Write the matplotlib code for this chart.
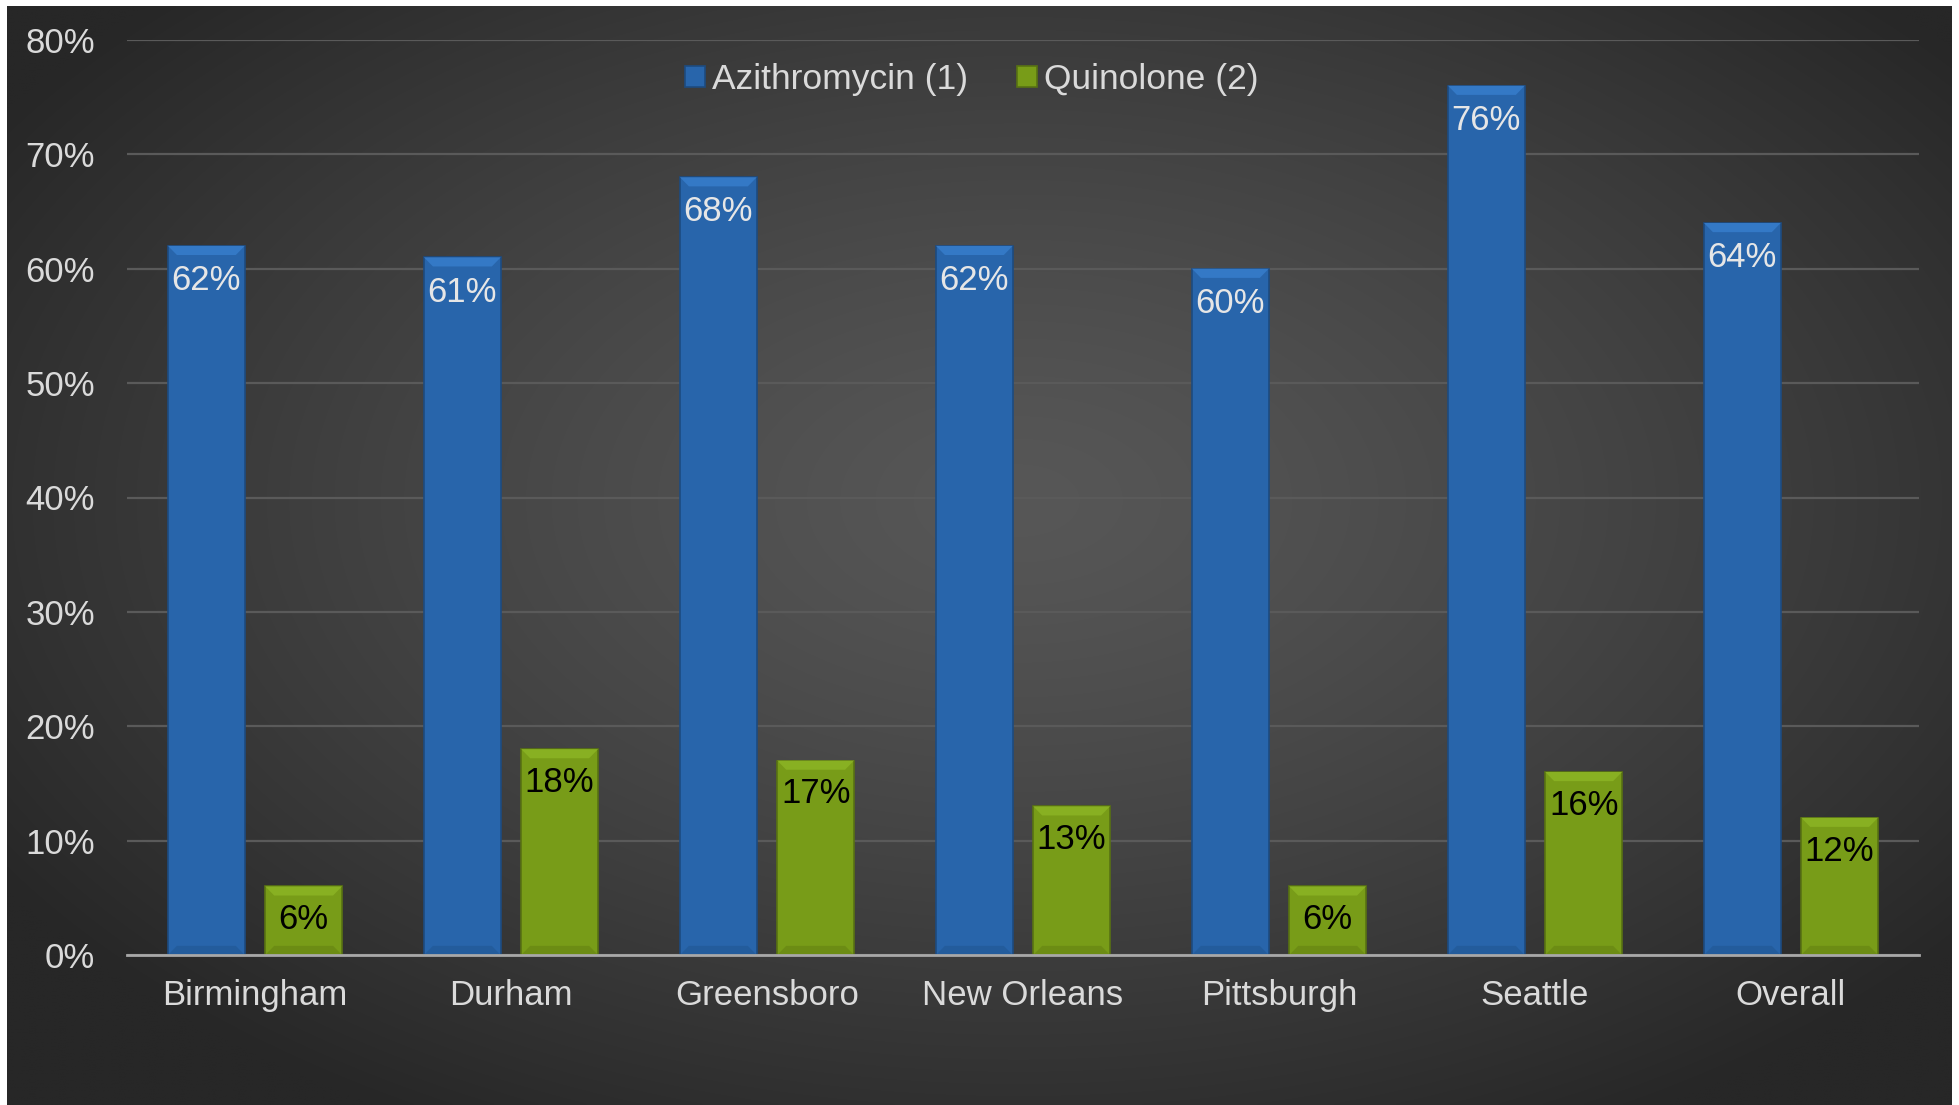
import numpy as np
import matplotlib
matplotlib.use("Agg")
import matplotlib.pyplot as plt
from matplotlib.patches import Polygon

plt.rcParams['font.family'] = ['Liberation Sans', 'DejaVu Sans']

cities = ['Birmingham', 'Durham', 'Greensboro', 'New Orleans', 'Pittsburgh', 'Seattle', 'Overall']
azithro = [62, 61, 68, 62, 60, 76, 64]
quinolone = [6, 18, 17, 13, 6, 16, 12]
yticks = [0, 10, 20, 30, 40, 50, 60, 70, 80]

fig = plt.figure(figsize=(19.59, 11.05), dpi=100, facecolor='white')

# dark radial gradient background
bg = fig.add_axes([7 / 1959, 0, (1952 - 7) / 1959, (1105 - 6) / 1105])
bg.set_axis_off()
yy, xx = np.mgrid[0:1:400j, 0:1:700j]
d = np.sqrt(((xx - 0.52) / 0.62) ** 2 + ((yy - 0.45) / 0.65) ** 2)
shade = 0x57 - (0x57 - 0x27) * np.clip(d, 0, 1) ** 1.3
img = np.dstack([shade, shade, shade]) / 255.0
bg.imshow(img, aspect='auto', extent=[0, 1, 0, 1], interpolation='bilinear')

ax = fig.add_axes([127 / 1959, 150 / 1105, 1792 / 1959, 915 / 1105])
ax.set_facecolor('none')

x = np.arange(len(cities))
w = 0.30
off = 0.19
blue_c, blue_edge, blue_hi, blue_lo = '#2865ab', '#1d4b80', '#3479c6', '#235c9c'
green_c, green_edge, green_hi, green_lo = '#789c18', '#587212', '#88b022', '#6c8c14'

b1 = ax.bar(x - off, azithro, w, color=blue_c, edgecolor=blue_edge, linewidth=1.2,
            label='Azithromycin (1)', zorder=3)
b2 = ax.bar(x + off, quinolone, w, color=green_c, edgecolor=green_edge, linewidth=1.2,
            label='Quinolone (2)', zorder=3)

# soft bevel on top and bottom of each bar
bev_y = 0.8
bev_x = 0.035
for bars, hi, lo in [(b1, blue_hi, blue_lo), (b2, green_hi, green_lo)]:
    for r in bars:
        x0, x1, top = r.get_x(), r.get_x() + r.get_width(), r.get_height()
        ax.add_patch(Polygon([(x0, top), (x1, top), (x1 - bev_x, top - bev_y), (x0 + bev_x, top - bev_y)],
                             closed=True, facecolor=hi, edgecolor='none', zorder=4))
        ax.add_patch(Polygon([(x0, 0), (x1, 0), (x1 - bev_x, bev_y), (x0 + bev_x, bev_y)],
                             closed=True, facecolor=lo, edgecolor='none', zorder=4))

for r, v in zip(b1, azithro):
    ax.annotate(f'{v}%', (r.get_x() + r.get_width() / 2, v), xytext=(0, -25), textcoords='offset points',
                ha='center', va='center', fontsize=25, color='#e6e6e6', zorder=5)
for r, v in zip(b2, quinolone):
    ax.annotate(f'{v}%', (r.get_x() + r.get_width() / 2, v), xytext=(0, -24), textcoords='offset points',
                ha='center', va='center', fontsize=25, color='black', zorder=5)

ax.set_xlim(-0.5, len(cities) - 0.5)
ax.set_ylim(0, 80)
ax.set_yticks(yticks)
ax.set_yticklabels([f'{t}%' for t in yticks])
ax.set_xticks(x)
ax.set_xticklabels(cities)
ax.tick_params(axis='y', length=0, pad=23, labelsize=25, labelcolor='#dadada')
ax.tick_params(axis='x', length=0, pad=17, labelsize=25, labelcolor='#dadada')
ax.grid(axis='y', color='#5a5a5a', linewidth=1.6, zorder=0)
ax.set_axisbelow(True)
for s in ['top', 'right', 'left']:
    ax.spines[s].set_visible(False)
ax.spines['bottom'].set_color('#a8a8a8')
ax.spines['bottom'].set_linewidth(2)
ax.spines['bottom'].set_zorder(6)

leg = ax.legend(loc='center', bbox_to_anchor=(0.4715, 0.957), ncol=2, frameon=False,
                fontsize=25.5, handlelength=0.55, handleheight=0.55, handletextpad=0.2,
                columnspacing=1.4)
for t in leg.get_texts():
    t.set_color('#dadada')

fig.savefig('out.png', dpi=100, facecolor='white')
